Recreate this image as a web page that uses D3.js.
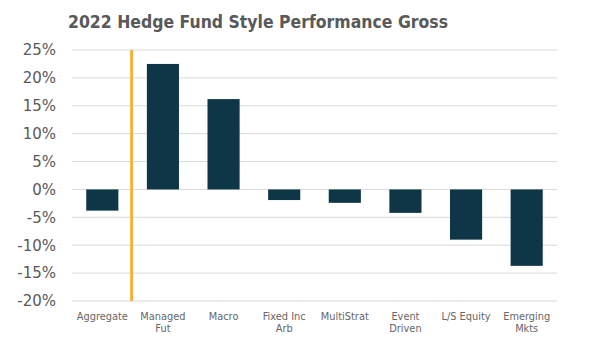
<!DOCTYPE html>
<html>
<head>
<meta charset="utf-8">
<script src="https://cdn.jsdelivr.net/npm/d3@7"></script>
<style>
  body { margin: 0; background: #fff; }
  svg { display: block; }
</style>
</head>
<body>
<div id="chart"></div>
<script>
// data
const categories = ['Aggregate', 'Managed Fut', 'Macro', 'Fixed Inc Arb', 'MultiStrat', 'Event Driven', 'L/S Equity', 'Emerging Mkts'];
const labelLines = [['Aggregate'], ['Managed', 'Fut'], ['Macro'], ['Fixed Inc', 'Arb'], ['MultiStrat'], ['Event', 'Driven'], ['L/S Equity'], ['Emerging', 'Mkts']];
const returns = [-3.8, 22.5, 16.2, -1.9, -2.4, -4.2, -9.0, -13.7];
const yTicks = [-20, -15, -10, -5, 0, 5, 10, 15, 20, 25];

const width = 600, height = 344;
const margin = { top: 50, right: 43, bottom: 43, left: 72 };
const font = 'Verdana, "DejaVu Sans", sans-serif';

const svg = d3.select('#chart').append('svg')
  .attr('width', width)
  .attr('height', height);

const x = d3.scaleBand()
  .domain(categories)
  .range([margin.left, width - margin.right])
  .paddingInner(0.47)
  .paddingOuter(0.235);

const y = d3.scaleLinear()
  .domain([-20, 25])
  .range([height - margin.bottom, margin.top]);

// title (squeezed a little to match the narrower original face)
svg.append('text')
  .attr('x', 68)
  .attr('y', 28)
  .attr('font-family', font)
  .attr('font-weight', 'bold')
  .attr('font-size', 17.5)
  .attr('fill', '#595959')
  .attr('textLength', 380)
  .attr('lengthAdjust', 'spacingAndGlyphs')
  .text('2022 Hedge Fund Style Performance Gross');

// gridlines
svg.append('g')
  .selectAll('line')
  .data(yTicks)
  .join('line')
  .attr('x1', margin.left)
  .attr('x2', width - margin.right)
  .attr('y1', d => y(d))
  .attr('y2', d => y(d))
  .attr('stroke', '#d9d9d9')
  .attr('stroke-width', 1);

// y axis labels
const yAxis = svg.append('g')
  .attr('transform', `translate(${margin.left},0)`)
  .call(d3.axisLeft(y).tickValues(yTicks).tickFormat(d => d + '%').tickSize(0).tickPadding(16));
yAxis.select('.domain').remove();
yAxis.selectAll('text')
  .attr('font-family', font)
  .attr('font-size', 15)
  .attr('fill', '#595959');

// bars
svg.append('g')
  .selectAll('rect')
  .data(returns)
  .join('rect')
  .attr('x', (d, i) => x(categories[i]))
  .attr('width', x.bandwidth())
  .attr('y', d => y(Math.max(0, d)))
  .attr('height', d => Math.abs(y(d) - y(0)))
  .attr('fill', '#0f3647');

// separator after the aggregate column
const sepX = x(categories[0]) + x.bandwidth() + x.step() * x.paddingInner() / 2 - 1;
svg.append('line')
  .attr('x1', sepX)
  .attr('x2', sepX)
  .attr('y1', y(25))
  .attr('y2', y(-20))
  .attr('stroke', '#f2b33d')
  .attr('stroke-width', 3);

// x labels
const xLab = svg.append('g')
  .selectAll('text')
  .data(categories)
  .join('text')
  .attr('x', d => x(d) + x.bandwidth() / 2)
  .attr('y', y(-20) + 19)
  .attr('text-anchor', 'middle')
  .attr('font-family', font)
  .attr('font-size', 9.8)
  .attr('fill', '#666666');

xLab.selectAll('tspan')
  .data((d, i) => labelLines[i])
  .join('tspan')
  .attr('x', function() { return this.parentNode.getAttribute('x'); })
  .attr('dy', (d, i) => i === 0 ? 0 : 12)
  .text(d => d);
</script>
</body>
</html>
